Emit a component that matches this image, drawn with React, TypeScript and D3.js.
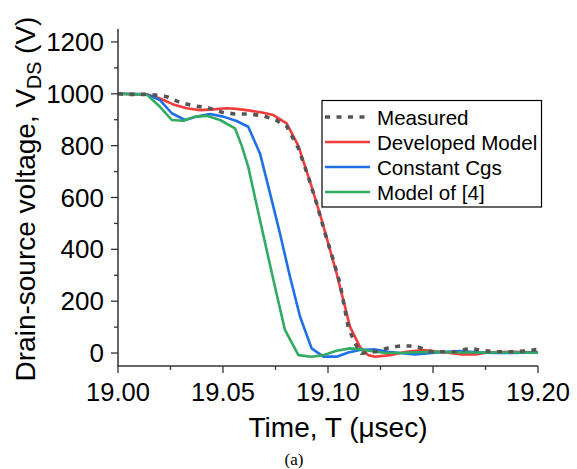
import React from "react";
import * as d3 from "d3";

type Pt = [number, number];

const measured: Pt[] = [
  [19.0, 1000], [19.0033, 998], [19.0152, 998], [19.0232, 989], [19.0295, 967],
  [19.0359, 954], [19.0429, 946], [19.0494, 929], [19.0557, 922], [19.0629, 922],
  [19.0692, 915], [19.0751, 899], [19.0803, 875], [19.0859, 790], [19.0906, 680],
  [19.0946, 577], [19.0986, 462], [19.1025, 359], [19.1057, 269], [19.1097, 98],
  [19.1129, 37], [19.116, -1], [19.1224, 5], [19.1295, 22], [19.1343, 27],
  [19.1414, 27], [19.1494, 5], [19.1605, 5], [19.1676, 18], [19.1738, 9],
  [19.1803, 5], [19.1875, 5], [19.1938, 8], [19.2, 14],
];

const developed: Pt[] = [
  [19.0, 1000], [19.0137, 998], [19.02, 982], [19.0263, 959], [19.0327, 944],
  [19.039, 937], [19.0454, 940], [19.0518, 944], [19.0565, 942], [19.0629, 935],
  [19.0692, 927], [19.074, 918], [19.0803, 886], [19.0859, 799], [19.0922, 642],
  [19.097, 513], [19.1041, 307], [19.1105, 101], [19.1152, 24], [19.1192, -8],
  [19.1224, -14], [19.1295, -8], [19.1375, 5], [19.1454, 12], [19.1533, 5],
  [19.1629, -5], [19.1708, -5], [19.1771, 3], [19.1881, 5], [19.2, 3],
];

const constantCgs: Pt[] = [
  [19.0, 1000], [19.0137, 998], [19.02, 976], [19.0256, 925], [19.0319, 899],
  [19.0375, 912], [19.0438, 922], [19.0501, 912], [19.0565, 895], [19.062, 873],
  [19.0676, 770], [19.0724, 616], [19.0771, 462], [19.0819, 294], [19.0867, 140],
  [19.0922, 18], [19.0978, -14], [19.1041, -14], [19.1097, 2], [19.1152, 12],
  [19.1224, 14], [19.1287, 5], [19.1343, 0], [19.1414, -5], [19.1494, 0],
  [19.1565, 5], [19.1629, 8], [19.1708, 3], [19.1787, 0], [19.1875, 0], [19.2, 2],
];

const modelOf4: Pt[] = [
  [19.0, 1000], [19.0137, 997], [19.02, 950], [19.0256, 899], [19.0311, 896],
  [19.0367, 912], [19.0422, 915], [19.0486, 899], [19.0557, 867], [19.0589, 800],
  [19.062, 719], [19.0676, 513], [19.074, 282], [19.0795, 89], [19.0859, -8],
  [19.0922, -14], [19.0978, -8], [19.1041, 9], [19.1105, 18], [19.116, 14],
  [19.1224, 5], [19.1263, 1], [19.1343, 0], [19.1494, 5], [19.1629, 2],
  [19.18, 2], [19.2, 2],
];

const xTicks = [19.0, 19.05, 19.1, 19.15, 19.2];
const xMinor = [19.025, 19.075, 19.125, 19.175];
const yTicks = [0, 200, 400, 600, 800, 1000, 1200];
const yMinor = [100, 300, 500, 700, 900, 1100];

const seriesNames = ["Measured", "Developed Model", "Constant Cgs", "Model of [4]"];
const seriesColors = ["#555555", "#f03c3c", "#1f6fe6", "#31ab62"];
const seriesData = [measured, developed, constantCgs, modelOf4];

const FONT = "'Liberation Sans', Arial, sans-serif";

export default function App() {
  const x = d3.scaleLinear().domain([19.0, 19.2]).range([118, 538]);
  const y = d3.scaleLinear().domain([-50, 1250]).range([366, 29]);
  const line = d3
    .line<Pt>()
    .x((d) => x(d[0]))
    .y((d) => y(d[1]))
    .curve(d3.curveLinear);

  const axisColor = "#333";

  return (
    <svg
      width={577}
      height={469}
      style={{ position: "absolute", left: 0, top: 0, background: "#fff" }}
    >
      {/* series */}
      {seriesData.map((d, i) =>
        i === 0 ? null : (
          <path
            key={i}
            d={line(d) || ""}
            fill="none"
            stroke={seriesColors[i]}
            strokeWidth={2.6}
            strokeLinejoin="round"
          />
        )
      )}
      <path
        d={line(measured) || ""}
        fill="none"
        stroke={seriesColors[0]}
        strokeWidth={3.6}
        strokeDasharray="5,6.5"
      />

      {/* axes */}
      <line x1={118} x2={118} y1={y(1250)} y2={y(-50)} stroke={axisColor} strokeWidth={1.5} />
      <line x1={117.25} x2={538} y1={366} y2={366} stroke={axisColor} strokeWidth={1.5} />

      {yTicks.map((t) => (
        <g key={"y" + t}>
          <line x1={111} x2={118} y1={y(t)} y2={y(t)} stroke={axisColor} strokeWidth={1.3} />
          <text
            x={104}
            y={y(t)}
            textAnchor="end"
            dominantBaseline="central"
            fontFamily={FONT}
            fontSize={26}
            fill="#000"
          >
            {t}
          </text>
        </g>
      ))}
      {yMinor.map((t) => (
        <line key={"ym" + t} x1={114} x2={118} y1={y(t)} y2={y(t)} stroke={axisColor} strokeWidth={1.3} />
      ))}

      {xTicks.map((t) => (
        <g key={"x" + t}>
          <line x1={x(t)} x2={x(t)} y1={366} y2={373} stroke={axisColor} strokeWidth={1.3} />
          <text
            x={x(t)}
            y={401}
            textAnchor="middle"
            fontFamily={FONT}
            fontSize={25.5}
            fill="#000"
          >
            {t.toFixed(2)}
          </text>
        </g>
      ))}
      {xMinor.map((t) => (
        <line key={"xm" + t} x1={x(t)} x2={x(t)} y1={366} y2={370} stroke={axisColor} strokeWidth={1.3} />
      ))}

      {/* axis titles */}
      <text x={338} y={437} textAnchor="middle" fontFamily={FONT} fontSize={28} fill="#000">
        Time, T (μsec)
      </text>
      <text
        transform="translate(35,199) rotate(-90)"
        textAnchor="middle"
        fontFamily={FONT}
        fontSize={28}
        fill="#000"
      >
        Drain-source voltage, V
        <tspan fontSize={19.6} dy={6}>DS</tspan>
        <tspan dy={-6}> (V)</tspan>
      </text>

      {/* legend */}
      <rect x={322} y={100.5} width={219.5} height={106.5} fill="#fff" stroke="#000" strokeWidth={1.2} />
      {seriesNames.map((n, i) => {
        const yy = 117 + i * 25;
        return (
          <g key={n}>
            <line
              x1={325}
              x2={370}
              y1={yy}
              y2={yy}
              stroke={seriesColors[i]}
              strokeWidth={i === 0 ? 3.6 : 2.6}
              strokeDasharray={i === 0 ? "5,6.5" : undefined}
            />
            <text
              x={377}
              y={yy}
              dominantBaseline="central"
              fontFamily={FONT}
              fontSize={20.6}
              fill="#000"
            >
              {n}
            </text>
          </g>
        );
      })}

      <text x={294} y={465} textAnchor="middle" fontFamily="'Liberation Serif', 'Times New Roman', serif" fontSize={17} fill="#000">
        (a)
      </text>
    </svg>
  );
}
